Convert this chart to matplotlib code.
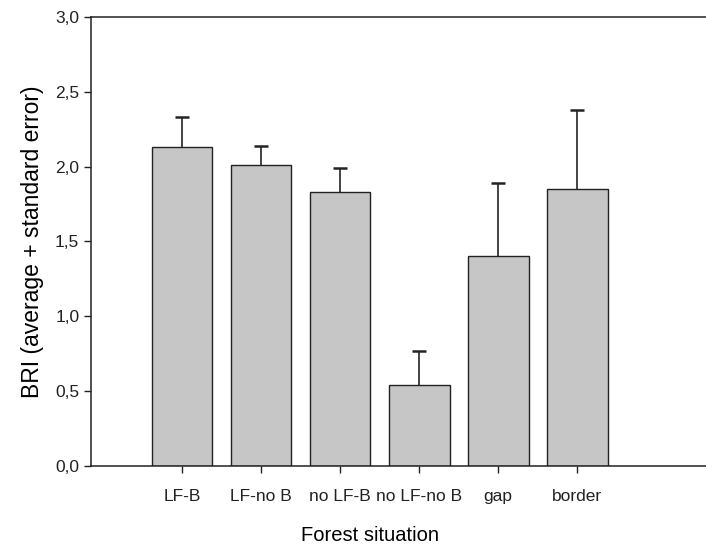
import numpy as np
import matplotlib
matplotlib.use('Agg')
import matplotlib.pyplot as plt
import matplotlib.ticker as ticker

plt.rcParams['font.family'] = ['Liberation Sans', 'DejaVu Sans']

# ── data ─────────────────────────────────────────────────────────────────────
categories = ['LF-B', 'LF-no B', 'no LF-B', 'no LF-no B', 'gap', 'border']
bri_mean   = [2.13, 2.01, 1.83, 0.54, 1.40, 1.85]
bri_se     = [0.20, 0.13, 0.16, 0.23, 0.49, 0.53]
y_ticks    = [0.0, 0.5, 1.0, 1.5, 2.0, 2.5, 3.0]

fig = plt.figure(figsize=(7.06, 5.46), dpi=100)
ax = fig.add_axes([0.129, 0.147, 0.871, 0.822])

x = np.arange(len(categories))
mean = np.array(bri_mean)
top = mean + np.array(bri_se)

ax.bar(x, mean, width=0.77, color='#c6c6c6', edgecolor='#222222',
       linewidth=1.0, zorder=2)
# upper-only error bars: stem + cap
ax.vlines(x, mean, top, colors='#222222', linewidth=1.2, zorder=3)
ax.plot(x, top, ls='none', marker='_', markersize=10, markeredgewidth=1.8,
        color='#222222', zorder=3)

ax.set_xlim(-1.15, 6.63)
ax.set_ylim(0, 3.0)
ax.set_yticks(y_ticks)
ax.yaxis.set_major_formatter(
    ticker.FuncFormatter(lambda v, p: f'{v:.1f}'.replace('.', ',')))
ax.set_xticks(x)
ax.set_xticklabels(categories)

ax.spines['right'].set_visible(False)
for s in ('left', 'top', 'bottom'):
    ax.spines[s].set_linewidth(1.1)
    ax.spines[s].set_color('#222222')

ax.tick_params(axis='both', direction='out', length=5, width=1.0,
               labelsize=12.5, colors='#222222')
ax.tick_params(axis='x', pad=12)

ax.set_ylabel('BRI (average + standard error)', fontsize=16.5, labelpad=8)
ax.set_xlabel('Forest situation', fontsize=14.5)
ax.xaxis.set_label_coords(0.454, -0.135)

fig.savefig('out.png', dpi=100)
plt.close()
